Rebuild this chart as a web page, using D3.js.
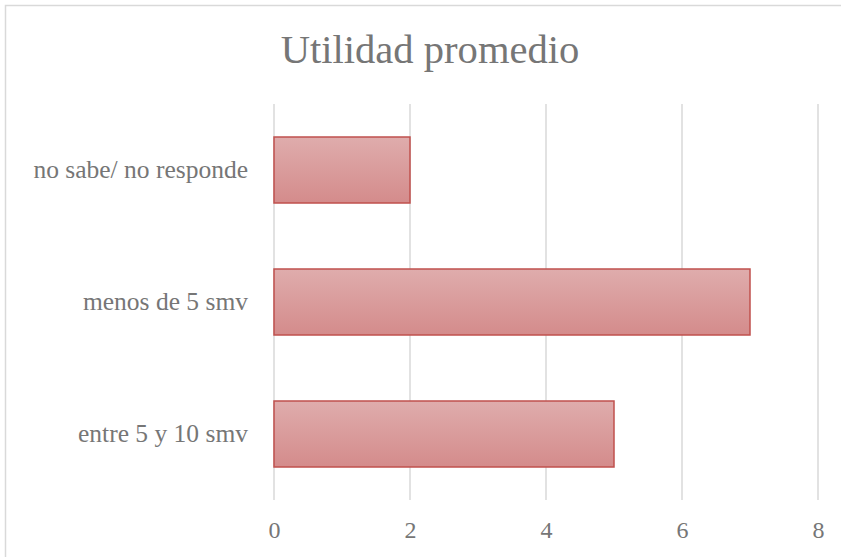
<!DOCTYPE html>
<html>
<head>
<meta charset="utf-8">
<script src="https://cdn.jsdelivr.net/npm/d3@7"></script>
<style>
  html, body { margin: 0; padding: 0; background: #fff; }
  svg { display: block; }
</style>
</head>
<body>
<svg id="chart" width="841" height="557"></svg>
<script>
const title = "Utilidad promedio";
const categories = ["no sabe/ no responde", "menos de 5 smv", "entre 5 y 10 smv"];
const values = [2, 7, 5];
const xTicks = [0, 2, 4, 6, 8];

const svg = d3.select("#chart");
const W = 841, H = 557;
const plot = { left: 274, right: 818, top: 104, bottom: 500 };
const textColor = "#767676";
const fontFam = "'Liberation Serif', 'DejaVu Serif', serif";

// frame (top and left edges visible)
svg.append("path")
  .attr("d", `M5.5,${H} L5.5,5.5 L${W},5.5`)
  .attr("fill", "none").attr("stroke", "#d9d9d9").attr("stroke-width", 1.5);

const x = d3.scaleLinear().domain([0, 8]).range([plot.left, plot.right]);
const y = d3.scaleBand().domain(categories).range([plot.top, plot.bottom])
  .paddingInner(0.5).paddingOuter(0.25);

// gradient
const defs = svg.append("defs");
const grad = defs.append("linearGradient").attr("id", "barGrad")
  .attr("x1", 0).attr("y1", 0).attr("x2", 0).attr("y2", 1);
grad.append("stop").attr("offset", "0%").attr("stop-color", "#dfacac");
grad.append("stop").attr("offset", "100%").attr("stop-color", "#d48b8b");

// gridlines
svg.append("g").selectAll("line").data(xTicks).join("line")
  .attr("x1", d => x(d)).attr("x2", d => x(d))
  .attr("y1", plot.top).attr("y2", plot.bottom)
  .attr("stroke", "#d9d9d9").attr("stroke-width", 1.5);

// bars
svg.append("g").selectAll("rect").data(categories).join("rect")
  .attr("x", x(0))
  .attr("y", d => y(d))
  .attr("width", (d, i) => x(values[i]) - x(0))
  .attr("height", y.bandwidth())
  .attr("fill", "url(#barGrad)")
  .attr("stroke", "#c0504d").attr("stroke-width", 1.5);

// x axis labels
const xAxis = d3.axisBottom(x).tickValues(xTicks).tickSize(0).tickPadding(0).tickFormat(d3.format("d"));
const gx = svg.append("g").attr("transform", `translate(0, ${plot.bottom})`).call(xAxis);
gx.select(".domain").remove();
gx.selectAll("text")
  .attr("y", 30).attr("dy", "0.35em")
  .attr("fill", textColor)
  .style("font-family", fontFam).style("font-size", "24px");

// y axis labels
const yAxis = d3.axisLeft(y).tickSize(0).tickPadding(0);
const gy = svg.append("g").attr("transform", `translate(248, 0)`).call(yAxis);
gy.select(".domain").remove();
gy.selectAll("text")
  .attr("x", 0).attr("dy", "0.3em")
  .attr("fill", textColor)
  .style("font-family", fontFam).style("font-size", "25.5px");

// title
svg.append("text")
  .attr("x", 430).attr("y", 63)
  .attr("text-anchor", "middle")
  .attr("fill", textColor)
  .style("font-family", fontFam).style("font-size", "40.6px")
  .text(title);
</script>
</body>
</html>
